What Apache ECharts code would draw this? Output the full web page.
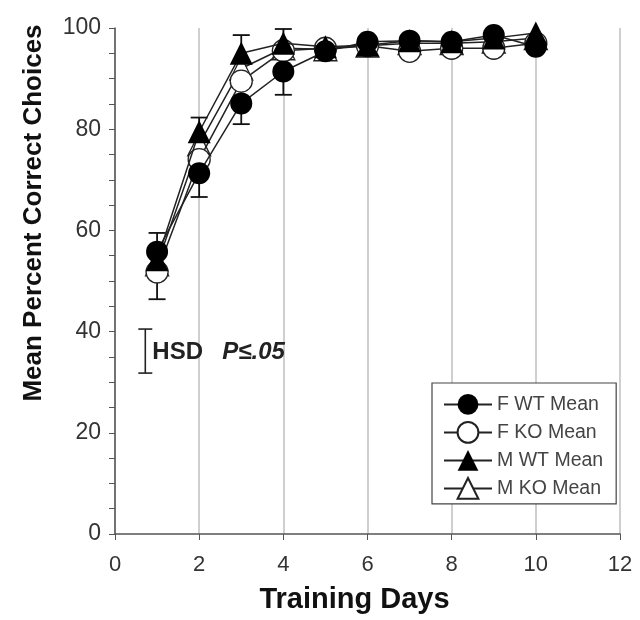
<!DOCTYPE html>
<html>
<head>
<meta charset="utf-8">
<script src="https://cdn.jsdelivr.net/npm/echarts@6/dist/echarts.min.js"></script>
<style>html,body{margin:0;padding:0;background:#fff}#c{width:640px;height:620px}</style>
</head>
<body>
<div id="c"></div>
<script>
const days = [1, 2, 3, 4, 5, 6, 7, 8, 9, 10];
const fWT = [55.8, 71.3, 85.1, 91.4, 95.4, 97.3, 97.5, 97.3, 98.6, 96.3];
const fKO = [51.8, 74.0, 89.5, 95.5, 96.0, 96.5, 95.4, 96.0, 96.0, 97.0];
const mWT = [54.2, 79.5, 95.0, 97.0, 96.3, 96.6, 97.5, 97.3, 98.0, 99.0];
const mKO = [53.3, 77.0, 92.0, 96.0, 95.8, 96.5, 97.0, 97.0, 97.3, 98.0];
// visible error bars: [day, low, high]
const errDays = [1, 2, 3, 4];
const errLow = [46.4, 66.6, 81.0, 86.8];
const errHigh = [59.5, 82.3, 98.6, 99.8];
// HSD reference bar: [x, low, high]
const hsd = [0.72, 31.8, 40.5];
const xTicks = [0, 2, 4, 6, 8, 10, 12];
const yTicks = [0, 20, 40, 60, 80, 100];

const font = 'Liberation Sans, Arial, sans-serif';
const lineCol = '#222';

function pairs(ys) { return days.map((d, i) => [d, ys[i]]); }

function errRender(params, api) {
  const x = api.value(0), lo = api.value(1), hi = api.value(2);
  const a = api.coord([x, lo]), b = api.coord([x, hi]);
  const w = 8.5;
  const st = { stroke: '#111', lineWidth: 1.8 };
  return {
    type: 'group',
    children: [
      { type: 'line', shape: { x1: a[0], y1: a[1], x2: b[0], y2: b[1] }, style: st },
      { type: 'line', shape: { x1: a[0] - w, y1: a[1], x2: a[0] + w, y2: a[1] }, style: st },
      { type: 'line', shape: { x1: b[0] - w, y1: b[1], x2: b[0] + w, y2: b[1] }, style: st }
    ]
  };
}

function hsdRender(params, api) {
  const x = api.value(0), lo = api.value(1), hi = api.value(2);
  const a = api.coord([x, lo]), b = api.coord([x, hi]);
  const w = 7;
  const st = { stroke: '#222', lineWidth: 1.6 };
  return {
    type: 'group',
    children: [
      { type: 'line', shape: { x1: a[0], y1: a[1], x2: b[0], y2: b[1] }, style: st },
      { type: 'line', shape: { x1: a[0] - w, y1: a[1], x2: a[0] + w, y2: a[1] }, style: st },
      { type: 'line', shape: { x1: b[0] - w, y1: b[1], x2: b[0] + w, y2: b[1] }, style: st },
      { type: 'text', x: a[0] + 7, y: (a[1] + b[1]) / 2 + 1,
        style: { text: 'HSD', font: 'bold 24px ' + font, fill: '#222', verticalAlign: 'middle', align: 'left' } },
      { type: 'text', x: a[0] + 77, y: (a[1] + b[1]) / 2 + 1,
        style: { text: 'P≤.05', font: 'italic bold 24px ' + font, fill: '#222', verticalAlign: 'middle', align: 'left' } }
    ]
  };
}

function lineSeries(name, data, symbol, filled, z) {
  return {
    name: name, type: 'line', data: pairs(data), z: z,
    symbol: symbol, symbolSize: symbol === 'circle' ? 22 : 23,
    lineStyle: { color: lineCol, width: 1.5 },
    itemStyle: { color: filled ? '#000' : '#fff', borderColor: '#222', borderWidth: filled ? 0 : 1.3 },
    emphasis: { disabled: true },
    animation: false
  };
}

const chart = echarts.init(document.getElementById('c'), null, { renderer: 'canvas' });
chart.setOption({
  animation: false,
  backgroundColor: '#fff',
  grid: { left: 115, right: 20, top: 28, bottom: 86, containLabel: false },
  legend: {
    orient: 'vertical', left: 432, top: 383,
    padding: [11, 13, 4, 11], itemGap: 6.2, itemWidth: 48, itemHeight: 26,
    borderColor: '#444', borderWidth: 1.2, backgroundColor: '#fff',
    textStyle: { fontFamily: font, fontSize: 19.5, color: '#444' },
    data: ['F WT Mean', 'F KO Mean', 'M WT Mean', 'M KO Mean']
  },
  xAxis: {
    type: 'value', min: 0, max: 12, interval: 2,
    name: 'Training Days', nameLocation: 'middle', nameGap: 51,
    nameTextStyle: { fontFamily: font, fontSize: 29, fontWeight: 'bold', color: '#111', padding: [0, 26, 0, 0] },
    axisLine: { show: true, lineStyle: { color: '#555', width: 1.5 } },
    axisTick: { show: true, inside: false, length: 6, lineStyle: { color: '#555' } },
    axisLabel: { fontFamily: font, fontSize: 22, color: '#333', margin: 20,
      formatter: v => xTicks.includes(v) ? String(v) : '' },
    splitLine: { show: true, lineStyle: { color: '#cfcfcf', width: 2 } }
  },
  yAxis: {
    type: 'value', min: 0, max: 100, interval: 20,
    name: 'Mean Percent Correct Choices', nameLocation: 'middle', nameGap: 68, nameRotate: 90,
    nameTextStyle: { fontFamily: font, fontSize: 26, fontWeight: 'bold', color: '#111', padding: [0, 0, 0, 136] },
    axisLine: { show: true, lineStyle: { color: '#555', width: 1.5 } },
    axisTick: { show: true, inside: false, length: 6, lineStyle: { color: '#555' } },
    minorTick: { show: true, splitNumber: 4, length: 6, lineStyle: { color: '#555' } },
    axisLabel: { fontFamily: font, fontSize: 23, color: '#333', margin: 14,
      formatter: v => yTicks.includes(v) ? String(v) : '' },
    splitLine: { show: false }
  },
  series: [
    { type: 'custom', renderItem: errRender, z: 1, silent: true,
      data: errDays.map((d, i) => [d, errLow[i], errHigh[i]]) },
    lineSeries('M KO Mean', mKO, 'triangle', false, 2),
    lineSeries('F KO Mean', fKO, 'circle', false, 3),
    lineSeries('M WT Mean', mWT, 'triangle', true, 4),
    lineSeries('F WT Mean', fWT, 'circle', true, 5),
    { type: 'custom', renderItem: hsdRender, z: 6, silent: true, data: [hsd] }
  ]
});
</script>
</body>
</html>
